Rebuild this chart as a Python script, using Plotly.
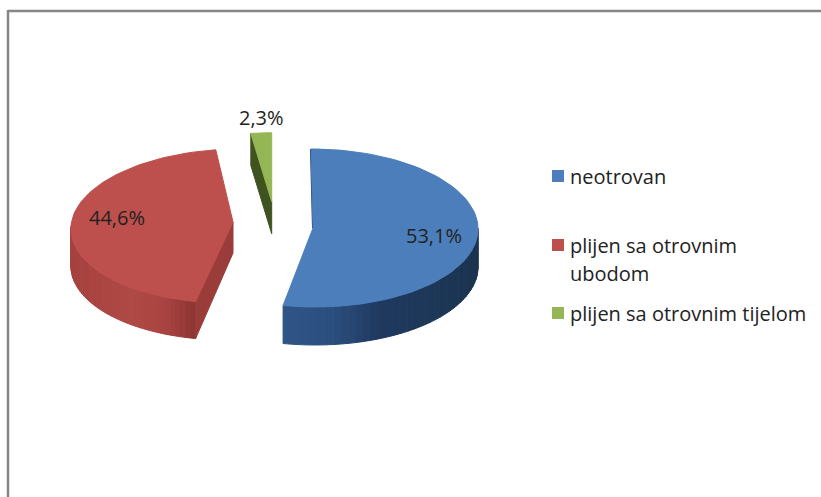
import numpy as np
import plotly.graph_objects as go

categories = ["neotrovan", "plijen sa otrovnim\nubodom", "plijen sa otrovnim tijelom"]
shares = [53.1, 44.6, 2.3]
labels = ["53,1%", "44,6%", "2,3%"]

# pixel geometry of each exploded slice (the picture is a fake 3d pie)
center_x = [313, 233, 271.7]
center_y = [228, 226, 201.7]
radius_x = [165, 162, 145]
radius_y = [79, 77, 69]
depth = [38, 37, 32]
shear = [0.026, -0.08, 0]
# perspective moves the tip of the red slice a little off the ellipse centre
apex_y = [228, 222, 201.7]
apex_depth = [38, 31, 32]

top_colors = ["#4c7ebb", "#bd4f4c", "#95b654"]
side_colors = ["#1b3657", "#9a3c39", "#3e5320"]
wall_stops = [
    ["#2f5586", "#2c4f7f", "#20395f", "#1e3859", "#1c3350"],
    ["#a5423f", "#ac4643", "#b04a47", "#a84441", "#8c3533"],
    ["#3e5320", "#3e5320", "#3e5320", "#3e5320", "#3e5320"],
]
label_x = [434, 117, 261]
label_y = [235, 217, 117]
legend_y = [176, 245, 313]
FONT = "Open Sans"


def hex_rgb(c):
    return [int(c[i:i + 2], 16) for i in (1, 3, 5)]


def rim(i, theta):
    # theta in degrees, clockwise from 12 o'clock
    t = np.radians(theta)
    y = -radius_y[i] * np.cos(t)
    x = radius_x[i] * np.sin(t) + shear[i] * y
    return center_x[i] + x, center_y[i] + y


def poly(fig, x, y, color):
    fig.add_trace(go.Scatter(
        x=x, y=y, mode="lines", fill="toself", fillcolor=color,
        line=dict(color=color, width=1), hoverinfo="skip", showlegend=False,
    ))


fig = go.Figure()

angles = np.cumsum([0] + shares) * 3.6

for i in range(len(shares)):
    start, end = angles[i], angles[i + 1]

    # outer wall, only the part facing the viewer, in small strips for the gradient
    lo, hi = max(start, 90), min(end, 270)
    if lo < hi:
        steps = np.linspace(lo, hi, 41)
        xs_all = rim(i, steps)[0]
        rgb = np.array([hex_rgb(c) for c in wall_stops[i]], dtype=float)
        for a, b in zip(steps[:-1], steps[1:]):
            xa, ya = rim(i, np.array([a, b]))
            f = (xa.mean() - xs_all.min()) / (xs_all.max() - xs_all.min())
            col = [np.interp(f, np.linspace(0, 1, len(rgb)), rgb[:, k]) for k in range(3)]
            color = "#%02x%02x%02x" % tuple(int(v) for v in col)
            poly(fig, [xa[0], xa[1], xa[1], xa[0], xa[0]],
                 [ya[0], ya[1], ya[1] + depth[i], ya[0] + depth[i], ya[0]], color)

    # cut face at the start edge; the blue one is edge-on so only a thin line shows
    ex, ey = rim(i, start)
    if i == 0:
        fig.add_trace(go.Scatter(x=[ex, center_x[i]], y=[ey, apex_y[i]], mode="lines",
                                 line=dict(color=side_colors[i], width=2),
                                 hoverinfo="skip", showlegend=False))
    else:
        poly(fig, [center_x[i], ex, ex, center_x[i], center_x[i]],
             [apex_y[i], ey, ey + depth[i], apex_y[i] + apex_depth[i], apex_y[i]], side_colors[i])

    # top surface
    tx, ty = rim(i, np.linspace(start, end, 80))
    poly(fig, [center_x[i]] + list(tx) + [center_x[i]],
         [apex_y[i]] + list(ty) + [apex_y[i]], top_colors[i])

    fig.add_annotation(x=label_x[i], y=label_y[i], text=labels[i], showarrow=False,
                       font=dict(family=FONT, size=20, color="#222222"))

    # legend, drawn by hand because the rows are unevenly spaced
    fig.add_trace(go.Scatter(x=[558], y=[legend_y[i]], mode="markers",
                             marker=dict(symbol="square", size=12, color=top_colors[i]),
                             hoverinfo="skip", showlegend=False))
    for n, line in enumerate(categories[i].split("\n")):
        fig.add_annotation(x=568, y=legend_y[i] + 28 * n, text=line, showarrow=False,
                           xanchor="left", font=dict(family=FONT, size=20, color="#222222"))

fig.update_xaxes(range=[0, 821], visible=False, fixedrange=True)
fig.update_yaxes(range=[497, 0], visible=False, fixedrange=True)

# chart frame, only top and left are inside the crop
frame = dict(color="#868686", width=2.5)
fig.add_shape(type="line", x0=8, x1=821, y0=11, y1=11, line=frame)
fig.add_shape(type="line", x0=8, x1=8, y0=10, y1=497, line=frame)

fig.update_layout(
    width=821, height=497,
    margin=dict(l=0, r=0, t=0, b=0),
    paper_bgcolor="white", plot_bgcolor="white",
    showlegend=False,
)

# the page's default body margin would shift the chart by 8px
fig.write_html("out.html", config={"displayModeBar": False},
               post_script="document.body.style.margin='0';document.body.style.overflow='hidden';")
